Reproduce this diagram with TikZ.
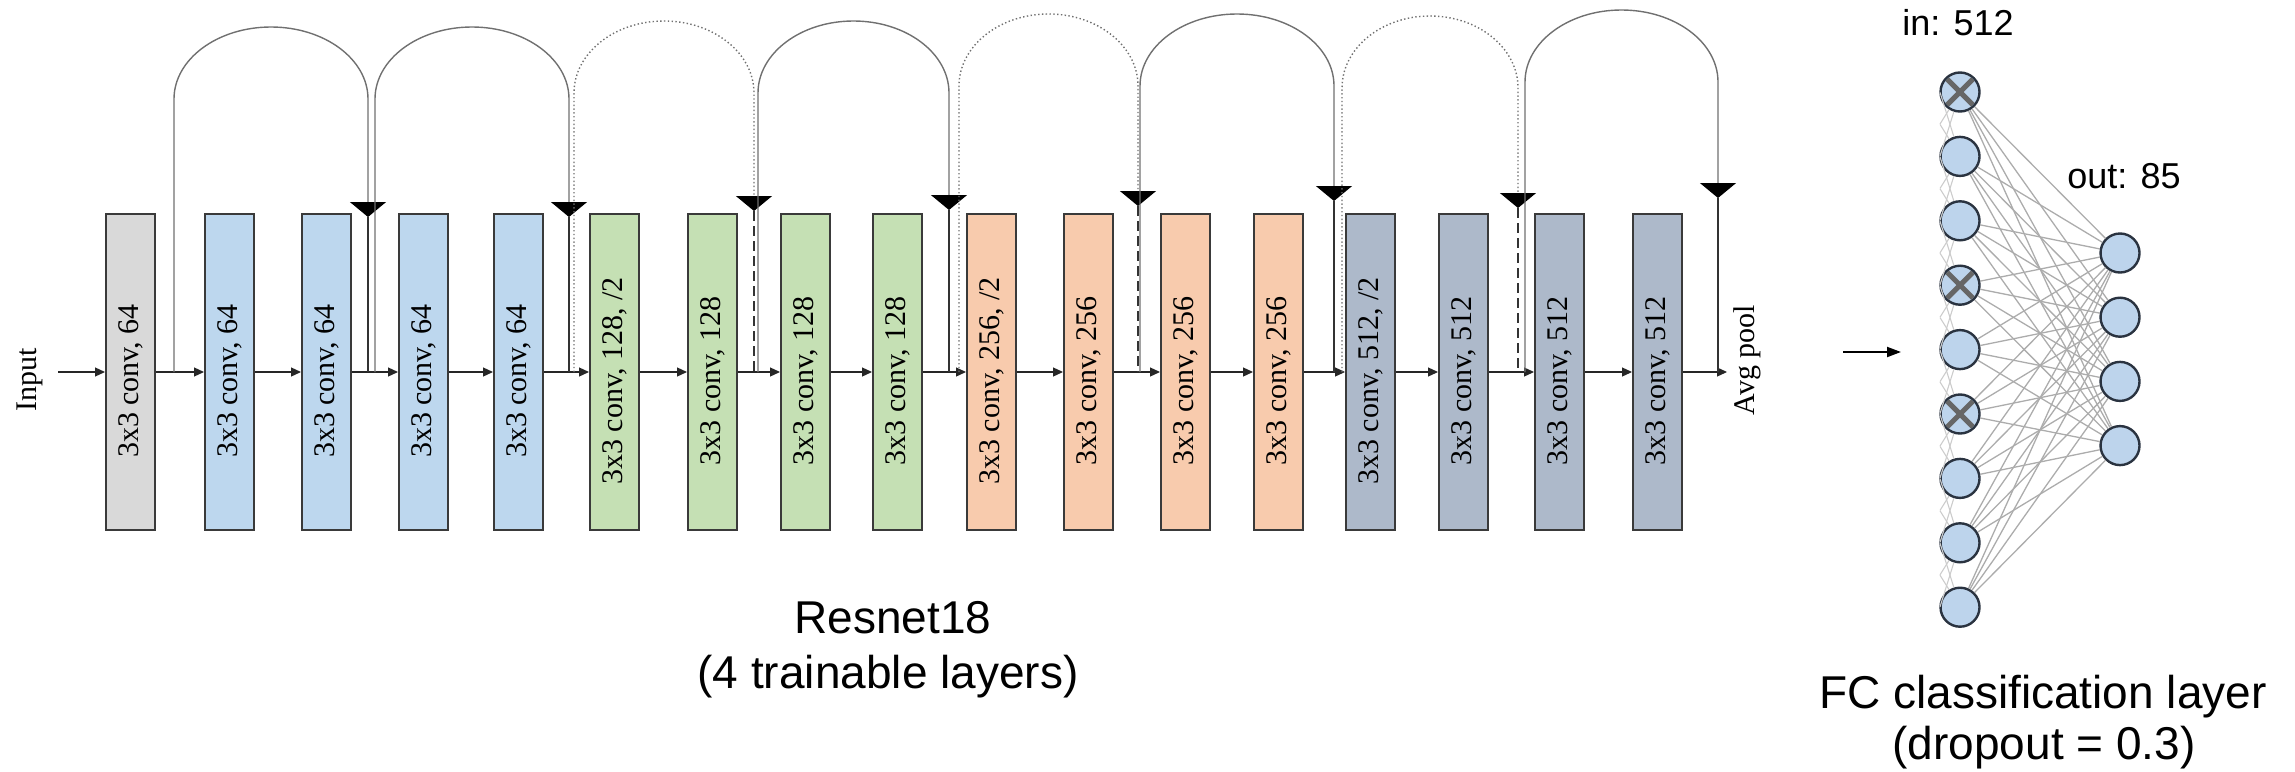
\documentclass[tikz,border=0pt]{standalone}
\usepackage{fontspec}
\setmainfont{Liberation Serif}
\newfontfamily\arialf{Liberation Sans}
\usetikzlibrary{arrows.meta}
\definecolor{cgray}{HTML}{D9D9D9}
\definecolor{cblue}{HTML}{BDD7EE}
\definecolor{cgreen}{HTML}{C5E0B4}
\definecolor{corange}{HTML}{F8CBAD}
\definecolor{cslate}{HTML}{ADB9CA}
\definecolor{boxline}{HTML}{3A3A3A}
\definecolor{skipgray}{HTML}{707070}
\definecolor{nfill}{HTML}{BDD4EC}
\definecolor{nline}{HTML}{2A3340}
\newcommand\blab[1]{\rotatebox{90}{#1\hspace{9pt}}}
\newcommand\resskip[6]{%
  \coordinate (s#1) at (#2,372);
  \coordinate (t#1) at (#3,#5);
  \coordinate (e#1) at (#3,372);
  \pgfmathsetmacro\rrx{(#3-#2)/2}
  \pgfmathsetmacro\rbend{#4+72}
  \draw[#6arc] (s#1) -- (#2,\rbend) arc[start angle=180,end angle=360,x radius=\rrx,y radius=72] -- (t#1);
  \draw[#6down] (t#1) -- (e#1);}
\begin{document}
\begin{tikzpicture}[x=0.5pt,y=-0.5pt,
  box/.style={draw=boxline, line width=1pt, minimum width=24.5pt, minimum height=158pt, inner sep=0pt, font=\fontsize{15}{18}\selectfont},
  flow/.style={draw=black!85, line width=0.6pt, -{Triangle[width=4.5pt,length=5pt]}},
  solidarc/.style={draw=skipgray, line width=0.7pt, -{Triangle[width=18pt,length=7.5pt,color=black]}},
  soliddown/.style={draw=black!80, line width=0.7pt},
  dotarc/.style={draw=skipgray, line width=0.7pt, dash pattern=on 0.7pt off 1.2pt, -{Triangle[width=18pt,length=7.5pt,color=black]}},
  dotdown/.style={draw=black!80, line width=1pt, dash pattern=on 5pt off 2.5pt},
  serifl/.style={font=\fontsize{15}{18}\selectfont, inner sep=0pt},
  sansbig/.style={font=\arialf\fontsize{23}{28}\selectfont, inner sep=0pt},
  sansmid/.style={font=\arialf\fontsize{18}{22}\selectfont, inner sep=0pt},
  neuron/.style={circle, draw=nline, line width=1.2pt, fill=nfill, minimum size=19.5pt, inner sep=0pt},
  fcedge/.style={draw=gray!65, line width=0.65pt},
  faintedge/.style={draw=gray!40, line width=0.55pt},
  xmark/.style={draw=black!60, line width=2.5pt, shorten >=1.3pt, shorten <=1.3pt},
  fcarrow/.style={draw=black, line width=1pt, -{Triangle[width=5pt,length=7pt]}}
]
\useasboundingbox (0,0) rectangle (2295,771);

% boxes
\node[box, fill=cgray]   (b1)  at (130.5,372)  {\blab{3x3 conv, 64}};
\node[box, fill=cblue]   (b2)  at (229.5,372)  {\blab{3x3 conv, 64}};
\node[box, fill=cblue]   (b3)  at (326.5,372)  {\blab{3x3 conv, 64}};
\node[box, fill=cblue]   (b4)  at (423.5,372)  {\blab{3x3 conv, 64}};
\node[box, fill=cblue]   (b5)  at (518.5,372)  {\blab{3x3 conv, 64}};
\node[box, fill=cgreen]  (b6)  at (614.5,372)  {\blab{3x3 conv, 128, /2}};
\node[box, fill=cgreen]  (b7)  at (712.5,372)  {\blab{3x3 conv, 128}};
\node[box, fill=cgreen]  (b8)  at (805.5,372)  {\blab{3x3 conv, 128}};
\node[box, fill=cgreen]  (b9)  at (897.5,372)  {\blab{3x3 conv, 128}};
\node[box, fill=corange] (b10) at (991.5,372)  {\blab{3x3 conv, 256, /2}};
\node[box, fill=corange] (b11) at (1088.5,372) {\blab{3x3 conv, 256}};
\node[box, fill=corange] (b12) at (1185.5,372) {\blab{3x3 conv, 256}};
\node[box, fill=corange] (b13) at (1278.5,372) {\blab{3x3 conv, 256}};
\node[box, fill=cslate]  (b14) at (1370.5,372) {\blab{3x3 conv, 512, /2}};
\node[box, fill=cslate]  (b15) at (1463.5,372) {\blab{3x3 conv, 512}};
\node[box, fill=cslate]  (b16) at (1559.5,372) {\blab{3x3 conv, 512}};
\node[box, fill=cslate]  (b17) at (1657.5,372) {\blab{3x3 conv, 512}};

\node[serifl, rotate=90] (inp) at (30,380) {Input};
\node[serifl, rotate=90] (avgp) at (1747,360) {Avg pool};
\coordinate (in0) at (58,372);
\coordinate (avg) at (1727,372);

% main line
\draw[flow] (in0) -- (b1.west);
\foreach \a/\b in {1/2,2/3,3/4,4/5,5/6,6/7,7/8,8/9,9/10,10/11,11/12,12/13,13/14,14/15,15/16,16/17}
  \draw[flow] (b\a.east) -- (b\b.west);
\draw[flow] (b17.east) -- (avg);

% skip connections
\resskip{1}{174}{368}{27}{217}{solid}
\resskip{2}{375}{569}{27}{217}{solid}
\resskip{3}{574}{754}{21}{211}{dot}
\resskip{4}{758}{949}{21}{210}{solid}
\resskip{5}{959}{1138}{14}{206}{dot}
\resskip{6}{1140}{1334}{14}{201}{solid}
\resskip{7}{1342}{1518}{16}{208}{dot}
\resskip{8}{1525}{1718}{10}{198}{solid}

% captions
\node[sansbig] (r1) at (893,618) {Resnet18};
\node[sansbig] (r2) at (888,677) {(4 trainable layers)};

% FC layer
\foreach \k in {1,...,9}
  \node[neuron] (i\k) at (1960,{92+64.4*(\k-1)}) {};
\foreach \k in {1,...,4}
  \node[neuron] (o\k) at (2120,{253+64.2*(\k-1)}) {};
\foreach \k in {1,...,9} {
  \foreach \d in {-64,-32,32,64} {
    \pgfmathsetmacro\fy{92+64.4*(\k-1)+\d}
    \pgfmathparse{(\fy>75 && \fy<625) ? 1 : 0}
    \ifnum\pgfmathresult=1
      \coordinate (lf) at (1940,\fy);
      \draw[faintedge] (lf) -- (i\k);
    \fi
  }
}
\foreach \a in {1,...,9}
  \foreach \b in {1,...,4}
    \draw[fcedge] (i\a) -- (o\b);
\foreach \k in {1,4,6} {
  \draw[xmark] (i\k.north west) -- (i\k.south east);
  \draw[xmark] (i\k.north east) -- (i\k.south west);
}
\coordinate (fa) at (1843,352);
\coordinate (fb) at (1901,352);
\draw[fcarrow] (fa) -- (fb);
\node[sansmid] (inl) at (1958,23) {in: 512};
\node[sansmid] (outl) at (2124,176) {out: 85};
\node[sansbig] (f1) at (2043,697) {FC classification layer};
\node[sansbig] (f2) at (2044,748) {(dropout = 0.3)};
\end{tikzpicture}
\end{document}
